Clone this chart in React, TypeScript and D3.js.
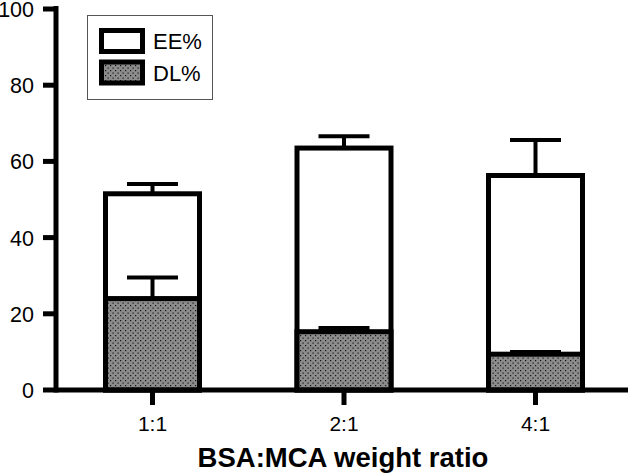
import React from "react";
import * as d3 from "d3";

const categories = ["1:1", "2:1", "4:1"];
const eeValues = [51.5, 63.5, 56.3];
const eeErrors = [2.6, 3.1, 9.3];
const dlValues = [24.0, 15.3, 9.4];
const dlErrors = [5.5, 1.0, 0.6];
const yTicks = [0, 20, 40, 60, 80, 100];
const legendLabels = ["EE%", "DL%"];
const xTitle = "BSA:MCA weight ratio";

const W = 628;
const H = 473;
const FONT = "'Liberation Sans', Arial, sans-serif";

export default function App() {
  const y = d3.scaleLinear().domain([0, 100]).range([390, 9]);
  const x = d3.scalePoint<string>().domain(categories).range([152.5, 535.5]);
  const barW = 94;
  const capW = 51;
  const axisX = 56;

  const errBar = (cx: number, v: number, e: number, key: string) => (
    <g key={key} stroke="#000" strokeWidth={4}>
      <line x1={cx} x2={cx} y1={y(v)} y2={y(v + e)} />
      <line x1={cx - capW / 2} x2={cx + capW / 2} y1={y(v + e)} y2={y(v + e)} />
    </g>
  );

  return (
    <svg width={W} height={H} style={{ position: "absolute", left: 0, top: 0 }} fontFamily={FONT}>
      <defs>
        <pattern id="dots" width={5} height={5} patternUnits="userSpaceOnUse">
          <rect width={5} height={5} fill="#8c8c8c" />
          <rect x={0} y={0} width={1.2} height={1.2} fill="#111" />
          <rect x={2.5} y={2.5} width={1.2} height={1.2} fill="#111" />
        </pattern>
      </defs>
      <rect width={W} height={H} fill="#fff" />

      {categories.map((c, i) => {
        const cx = x(c)!;
        return (
          <g key={c}>
            <rect x={cx - barW / 2} y={y(eeValues[i])} width={barW} height={y(0) - y(eeValues[i])}
              fill="#fff" stroke="#000" strokeWidth={5} />
            {errBar(cx, eeValues[i], eeErrors[i], "ee" + i)}
            <rect x={cx - barW / 2} y={y(dlValues[i])} width={barW} height={y(0) - y(dlValues[i])}
              fill="url(#dots)" stroke="#000" strokeWidth={5} />
            {errBar(cx, dlValues[i], dlErrors[i], "dl" + i)}
          </g>
        );
      })}

      {/* axes */}
      <line x1={axisX} x2={axisX} y1={6} y2={392.5} stroke="#000" strokeWidth={5} />
      <line x1={axisX} x2={W} y1={y(0)} y2={y(0)} stroke="#000" strokeWidth={5} />
      {yTicks.map((t) => (
        <g key={t}>
          <line x1={43} x2={axisX} y1={y(t)} y2={y(t)} stroke="#000" strokeWidth={5} />
          <text x={34} y={y(t) + 8} textAnchor="end" fontSize={21.5} fill="#000">{t}</text>
        </g>
      ))}
      {categories.map((c) => (
        <g key={"xt" + c}>
          <line x1={x(c)!} x2={x(c)!} y1={y(0)} y2={405} stroke="#000" strokeWidth={5} />
          <text x={x(c)!} y={431} textAnchor="middle" fontSize={21} fill="#000">{c}</text>
        </g>
      ))}
      <text x={343} y={467} textAnchor="middle" fontSize={27.5} fontWeight="bold" fill="#000">{xTitle}</text>

      {/* legend */}
      <rect x={87.5} y={15.5} width={125} height={84} fill="#fff" stroke="#555" strokeWidth={1} />
      <rect x={101.5} y={30.5} width={41} height={21} fill="#fff" stroke="#000" strokeWidth={5} />
      <rect x={101.5} y={62} width={41} height={21} fill="url(#dots)" stroke="#000" strokeWidth={5} />
      <text x={153} y={49} fontSize={22} fill="#000">{legendLabels[0]}</text>
      <text x={153} y={81} fontSize={22} fill="#000">{legendLabels[1]}</text>
    </svg>
  );
}
